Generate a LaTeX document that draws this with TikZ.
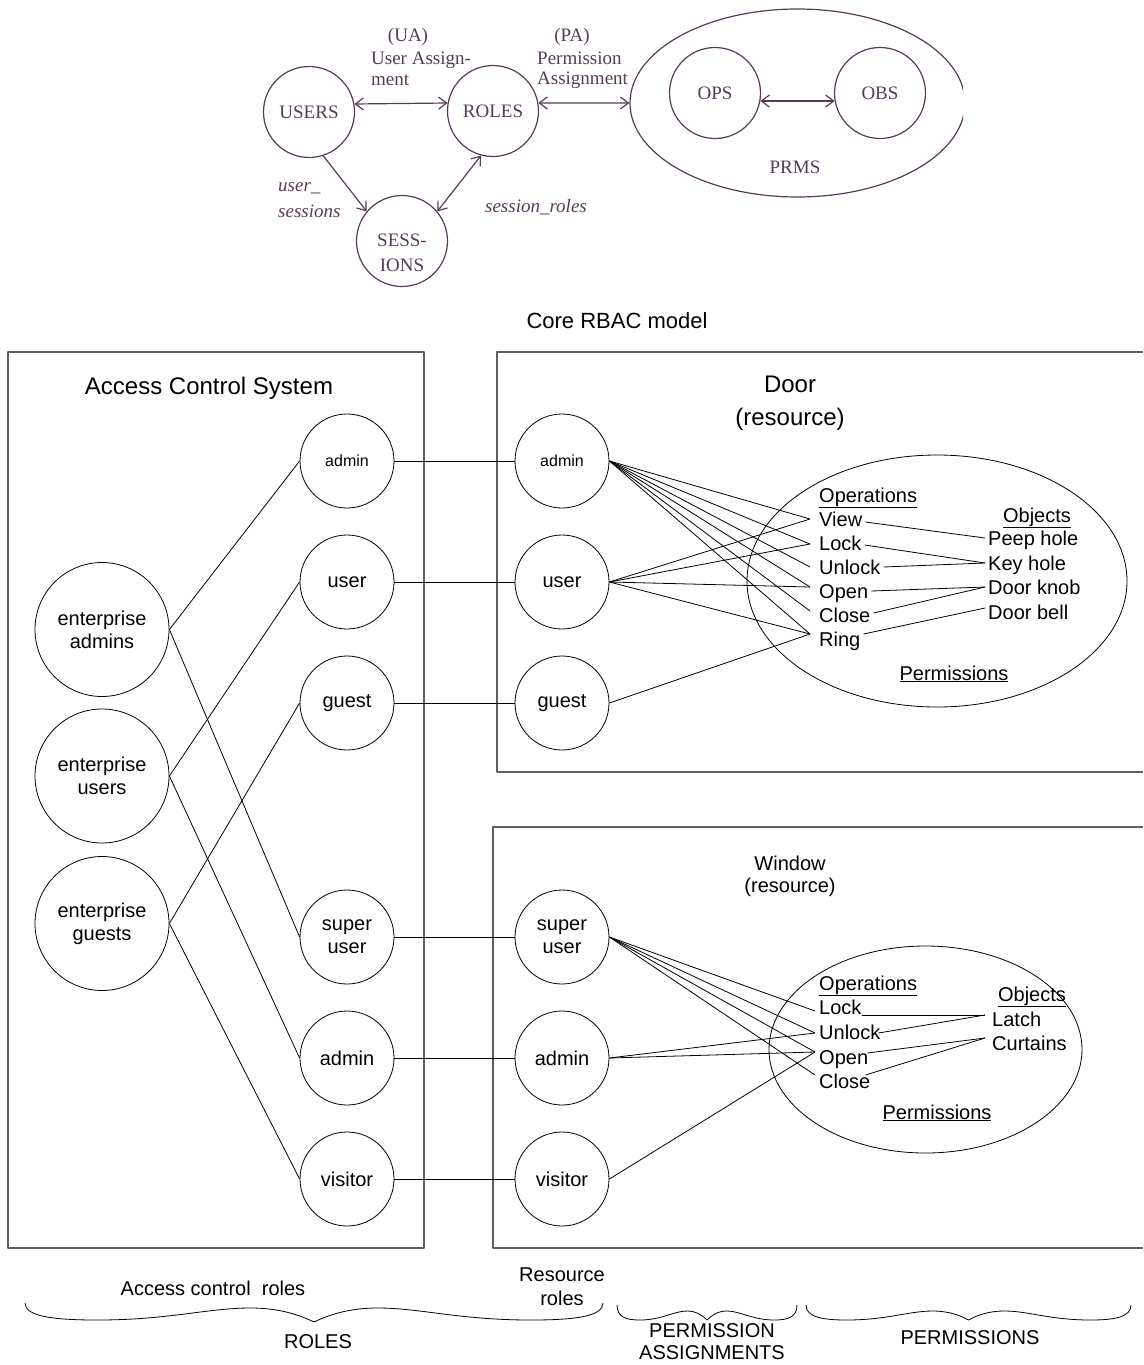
\documentclass[tikz,border=0pt]{standalone}
\usepackage{fontspec}
\setmainfont{Liberation Sans}
\newfontfamily\tnr{Liberation Serif}
\usetikzlibrary{shapes.geometric,arrows.meta}
\definecolor{plum}{RGB}{88,58,88}
\definecolor{boxgray}{RGB}{95,95,95}
\newcommand{\mybrace}[6]{% x1, x2, y0, low, hump, tip
  \pgfmathsetmacro{\bw}{(#2-#1)/2}%
  \pgfmathsetmacro{\bm}{(#1+#2)/2}%
  \draw[thinln] (#1,#3)
    .. controls +(0,0.8*#4) and +(-0.15*\bw,0) .. (#1+0.25*\bw,#3+#4)
    .. controls +(0.25*\bw,0) and +(-0.15*\bw,0) .. (#1+0.78*\bw,#3+#5)
    .. controls +(0.1*\bw,0) and +(-0.05*\bw,-0.5*#6+0.5*#5) .. (\bm,#3+#6)
    .. controls +(0.05*\bw,-0.5*#6+0.5*#5) and +(-0.1*\bw,0) .. (#2-0.78*\bw,#3+#5)
    .. controls +(0.15*\bw,0) and +(-0.25*\bw,0) .. (#2-0.25*\bw,#3+#4)
    .. controls +(0.15*\bw,0) and +(0,0.8*#4) .. (#2,#3);
}
\begin{document}
\begin{tikzpicture}[x=1pt,y=-1pt,line join=round,
  thinln/.style={line width=0.8pt},
  topc/.style={circle,draw=plum,line width=1.2pt,minimum size=91pt,inner sep=0pt,
    font=\tnr\fontsize{19}{22}\selectfont,text=plum},
  toplbl/.style={inner sep=0pt,font=\tnr\fontsize{19}{22}\selectfont,text=plum},
  topit/.style={toplbl,font=\tnr\itshape\fontsize{19}{23}\selectfont},
  barb/.tip={Straight Barb[length=8pt,width=12pt]},
  toparr/.style={draw=plum,line width=1.2pt,barb-barb},
  role/.style={circle,draw,thinln,minimum size=94pt,inner sep=0pt,
    font=\fontsize{20}{23}\selectfont,align=center},
  smallrole/.style={role,font=\fontsize{16}{19}\selectfont},
  ent/.style={role,minimum size=134pt},
  lbl/.style={inner sep=0pt,font=\fontsize{20}{23}\selectfont},
  op/.style={lbl,anchor=west,text height=14pt,text depth=0pt,inner xsep=3pt},
  boxln/.style={draw=boxgray,line width=1.3pt}]
\useasboundingbox (0,0) rectangle (1143,1365);

% ---------------- Core RBAC model ----------------
\begin{scope}
  \clip (0,0) rectangle (963,300);
  \node[ellipse,draw=plum,line width=1.2pt,minimum width=335pt,minimum height=188pt,inner sep=0pt] (PRMS) at (797.5,103) {};
\end{scope}
\node[topc] (USERS) at (309,112) {USERS};
\node[topc] (ROLES) at (493,111) {ROLES};
\node[topc] (SESS) at (402,241) {};
\node[toplbl,align=center] (sesslbl) at (402,253) {SESS-\\[3pt]IONS};
\node[topc] (OPS) at (715,93) {OPS};
\node[topc] (OBS) at (880,93) {OBS};
\node[toplbl] (prmslbl) at (795,167) {PRMS};

\node[toplbl] (ua1) at (408,37) {(UA)};
\node[toplbl,anchor=west] (ua2) at (371,60) {User Assign-};
\node[toplbl,anchor=west] (ua3) at (371,80) {ment};
\node[toplbl] (pa1) at (572,37) {(PA)};
\node[toplbl,anchor=west] (pa2) at (537,58) {Permission};
\node[toplbl,anchor=west] (pa3) at (537,80) {Assignment};
\node[topit,anchor=west] (us1) at (278,188) {user\_};
\node[topit,anchor=west] (us2) at (278,211) {sessions};
\node[topit] (sr) at (536,207) {session\_roles};

\draw[toparr] (USERS.10) -- (ROLES.170);
\draw[toparr] (ROLES.10) -- (PRMS.west);
\draw[toparr] (OPS.-10) -- (OBS.190);
\draw[draw=plum,line width=1.2pt,-barb] (USERS.-72) -- (SESS.140);
\draw[toparr] (SESS.40) -- (ROLES.-105);

\node[lbl,font=\fontsize{22}{25}\selectfont] (coretitle) at (617,321) {Core RBAC model};

% ---------------- boxes ----------------
\node[boxln,minimum width=416pt,minimum height=896pt,inner sep=0pt] (acsbox) at (216,800) {};
\draw[boxln] (1143,352) -- (497,352) -- (497,772) -- (1143,772);
\draw[boxln] (1143,827) -- (493,827) -- (493,1248) -- (1143,1248);

\node[lbl,font=\fontsize{24}{28}\selectfont] (acst) at (209,388) {Access Control System};
\node[lbl,align=center,font=\fontsize{24}{33}\selectfont] (doort) at (790,403) {Door\\(resource)};
\node[lbl,align=center,font=\fontsize{20}{22}\selectfont] (wint) at (790,876) {Window\\(resource)};

% ---------------- role circles ----------------
\node[smallrole] (aA) at (347,461) {admin};
\node[role] (aU) at (347,582) {user};
\node[role] (aG) at (347,703) {guest};
\node[role] (aS) at (347,937) {super\\user};
\node[role] (aAd) at (347,1058) {admin};
\node[role] (aV) at (347,1179) {visitor};

\node[ent] (eA) at (102,629.5) {enterprise\\admins};
\node[ent] (eU) at (102,776) {enterprise\\users};
\node[ent] (eG) at (102,923.5) {enterprise\\guests};

\node[smallrole] (dA) at (562,461) {admin};
\node[role] (dU) at (562,582) {user};
\node[role] (dG) at (562,703) {guest};
\node[role] (wS) at (562,937) {super\\user};
\node[role] (wA) at (562,1058) {admin};
\node[role] (wV) at (562,1179) {visitor};

\draw[thinln] (eA.east) -- (aA.west);
\draw[thinln] (eA.east) -- (aS.west);
\draw[thinln] (eU.east) -- (aU.west);
\draw[thinln] (eU.east) -- (aAd.west);
\draw[thinln] (eG.east) -- (aG.west);
\draw[thinln] (eG.east) -- (aV.west);

\draw[thinln] (aA) -- (dA);
\draw[thinln] (aU) -- (dU);
\draw[thinln] (aG) -- (dG);
\draw[thinln] (aS) -- (wS);
\draw[thinln] (aAd) -- (wA);
\draw[thinln] (aV) -- (wV);

% ---------------- Door permissions ----------------
\node[ellipse,draw,thinln,minimum width=380pt,minimum height=252pt,inner sep=0pt] (dperm) at (937,581) {};
\node[op] (dOps) at (816,495) {\underline{Operations}};
\node[op] (dView) at (816,519) {View};
\node[op] (dLock) at (816,543) {Lock};
\node[op] (dUnlock) at (816,567) {Unlock};
\node[op] (dOpen) at (816,591) {Open};
\node[op] (dClose) at (816,615) {Close};
\node[op] (dRing) at (816,639) {Ring};
\node[op,anchor=center] (dObj) at (1037,515) {\underline{Objects}};
\node[op] (dPeep) at (985,538) {Peep hole};
\node[op] (dKey) at (985,563) {Key hole};
\node[op] (dKnob) at (985,587) {Door knob};
\node[op] (dBell) at (985,612) {Door bell};
\node[op,anchor=center] (dPermL) at (954,673) {\underline{Permissions}};

\coordinate (cView) at ([xshift=-6pt]dView.west);
\coordinate (cLock) at ([xshift=-6pt,yshift=-1pt]dLock.west);
\coordinate (cUnlock) at ([xshift=-6pt]dUnlock.west);
\coordinate (cOpen) at ([xshift=-6pt,yshift=4pt]dOpen.west);
\coordinate (cClose) at ([xshift=-6pt,yshift=4pt]dClose.west);
\coordinate (cRing) at ([xshift=-6pt,yshift=5pt]dRing.west);

\foreach \t in {cView,cLock,cUnlock,cOpen,cClose,cRing}
  \draw[thinln] (dA.east) -- (\t);
\foreach \t in {cView,cLock,cOpen,cRing}
  \draw[thinln] (dU.east) -- (\t);
\draw[thinln] (dG.east) -- (cRing);

\draw[thinln] ([yshift=-3pt]dView.east) -- (dPeep.west);
\draw[thinln] ([yshift=-2pt]dLock.east) -- (dKey.west);
\draw[thinln] (dUnlock.east) -- (dKey.west);
\draw[thinln] (dOpen.east) -- (dKnob.west);
\draw[thinln] ([yshift=2pt]dClose.east) -- (dKnob.west);
\draw[thinln] ([yshift=5pt]dRing.east) -- ([yshift=4pt]dBell.west);

% ---------------- Window permissions ----------------
\node[ellipse,draw,thinln,minimum width=313pt,minimum height=207pt,inner sep=0pt] (wperm) at (925.5,1049.5) {};
\node[op] (wOps) at (816,983) {\underline{Operations}};
\node[op] (wLock) at (816,1007) {Lock};
\node[op] (wUnlock) at (816,1032) {Unlock};
\node[op] (wOpen) at (816,1057) {Open};
\node[op] (wClose) at (816,1081) {Close};
\node[op,anchor=center] (wObj) at (1032,994) {\underline{Objects}};
\node[op] (wLatch) at (989,1019) {Latch};
\node[op] (wCurt) at (989,1043) {Curtains};
\node[op,anchor=center] (wPermL) at (937,1112) {\underline{Permissions}};

\coordinate (xLock) at ([xshift=-1pt,yshift=-4pt]wLock.west);
\coordinate (xUnlock) at ([xshift=-1pt,yshift=-1pt]wUnlock.west);
\coordinate (xOpen) at ([xshift=-1pt,yshift=5pt]wOpen.west);
\coordinate (xClose) at ([xshift=-1pt,yshift=6pt]wClose.west);

\foreach \t in {xLock,xUnlock,xOpen,xClose}
  \draw[thinln] (wS.east) -- (\t);
\foreach \t in {xUnlock,xOpen}
  \draw[thinln] (wA.east) -- (\t);
\draw[thinln] (wV.east) -- (xOpen);

\draw[thinln] ([xshift=-3pt,yshift=-8pt]wLock.east) -- ([xshift=-4pt,yshift=4pt]wLatch.west);
\draw[thinln] ([xshift=-5pt,yshift=-1pt]wUnlock.east) -- ([xshift=-4pt,yshift=4pt]wLatch.west);
\draw[thinln] ([xshift=-4pt,yshift=4pt]wOpen.east) -- ([xshift=-4pt,yshift=5pt]wCurt.west);
\draw[thinln] ([xshift=-8pt,yshift=6pt]wClose.east) -- ([xshift=-4pt,yshift=5pt]wCurt.west);

% ---------------- bottom braces ----------------
\node[lbl] (acr) at (213,1288) {Access control\ \ roles};
\node[lbl,align=center,font=\fontsize{20}{24}\selectfont] (rr) at (562,1287) {Resource\\roles};
\mybrace{25}{603}{1303}{17}{5}{19}
\mybrace{617}{797}{1305}{15}{6}{15}
\mybrace{806}{1131}{1305}{15}{6}{15}
\node[lbl] (rolesT) at (318,1342) {ROLES};
\node[lbl,align=center,font=\fontsize{20}{22}\selectfont] (paT) at (712,1342) {PERMISSION\\ASSIGNMENTS};
\node[lbl] (permT) at (970,1338) {PERMISSIONS};
\end{tikzpicture}
\end{document}
